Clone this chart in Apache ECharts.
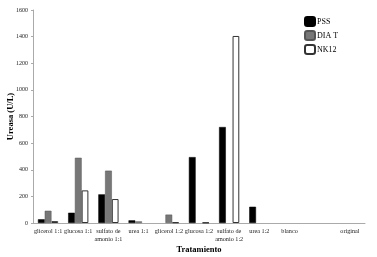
<!DOCTYPE html>
<html><head><meta charset="utf-8">
<script src="https://cdn.jsdelivr.net/npm/echarts@6/dist/echarts.min.js"></script>
<style>html,body{margin:0;padding:0;background:#fff}#c{width:377px;height:257px}</style>
</head><body><div id="c"></div>
<script>
const categories = ['glicerol 1:1','glucosa 1:1','sulfato de\namonio 1:1','urea 1:1','glicerol 1:2','glucosa 1:2','sulfato de\namonio 1:2','urea 1:2','blanco','','original'];
const pss  = [28, 77, 215, 20, 0, 495, 721, 122, 0, 0, 0];
const diaT = [92, 490, 393, 12, 63, 0, 0, 0, 0, 0, 0];
const nk12 = [14, 245, 180, 0, 5, 3, 1405, 0, 0, 0, 0];
const yTicks = {min: 0, max: 1600, interval: 200};

const hideZero = arr => arr.map(v => v === 0 ? '-' : v);
const font = 'Liberation Serif';
const chart = echarts.init(document.getElementById('c'));
chart.setOption({
  animation: false,
  textStyle: {fontFamily: font},
  grid: {left: 33, right: 12, top: 10, bottom: 34, containLabel: false, outerBoundsMode: 'none'},
  legend: {
    orient: 'vertical', left: 299, top: 11, itemWidth: 10, itemHeight: 9, itemGap: 3,
    textStyle: {fontFamily: font, fontSize: 8, color: '#000', padding: [0,0,0,-3]},
    data: ['PSS','DIA T','NK12']
  },
  xAxis: {
    type: 'category', data: categories,
    name: 'Tratamiento', nameLocation: 'middle', nameGap: 22, nameMoveOverlap: false,
    nameTextStyle: {fontFamily: font, fontSize: 8.5, fontWeight: 'bold', color: '#000'},
    axisLine: {lineStyle: {color: '#aaa', width: 1}},
    axisTick: {show: false},
    axisLabel: {interval: 0, fontFamily: font, fontSize: 6.2, color: '#222', margin: 5, lineHeight: 7.5, hideOverlap: false}
  },
  yAxis: {
    type: 'value', min: yTicks.min, max: yTicks.max, interval: yTicks.interval,
    name: 'Ureasa (U/L)', nameLocation: 'middle', nameGap: 18, nameRotate: 90, nameMoveOverlap: false,
    nameTextStyle: {fontFamily: font, fontSize: 8.5, fontWeight: 'bold', color: '#000'},
    axisLine: {show: true, lineStyle: {color: '#aaa', width: 1}},
    axisTick: {show: true, length: 2, lineStyle: {color: '#aaa'}},
    splitLine: {show: false},
    axisLabel: {fontFamily: font, fontSize: 6, color: '#222', margin: 5, formatter: v => String(v)}
  },
  series: [
    {name: 'PSS', type: 'bar', data: hideZero(pss), barGap: '0%', barCategoryGap: '33%',
     itemStyle: {color: '#000', borderColor: '#000', borderWidth: 0.5}},
    {name: 'DIA T', type: 'bar', data: hideZero(diaT),
     itemStyle: {color: '#777', borderColor: '#555', borderWidth: 0.5}},
    {name: 'NK12', type: 'bar', data: hideZero(nk12),
     itemStyle: {color: '#fff', borderColor: '#333', borderWidth: 1}}
  ]
});
</script></body></html>
